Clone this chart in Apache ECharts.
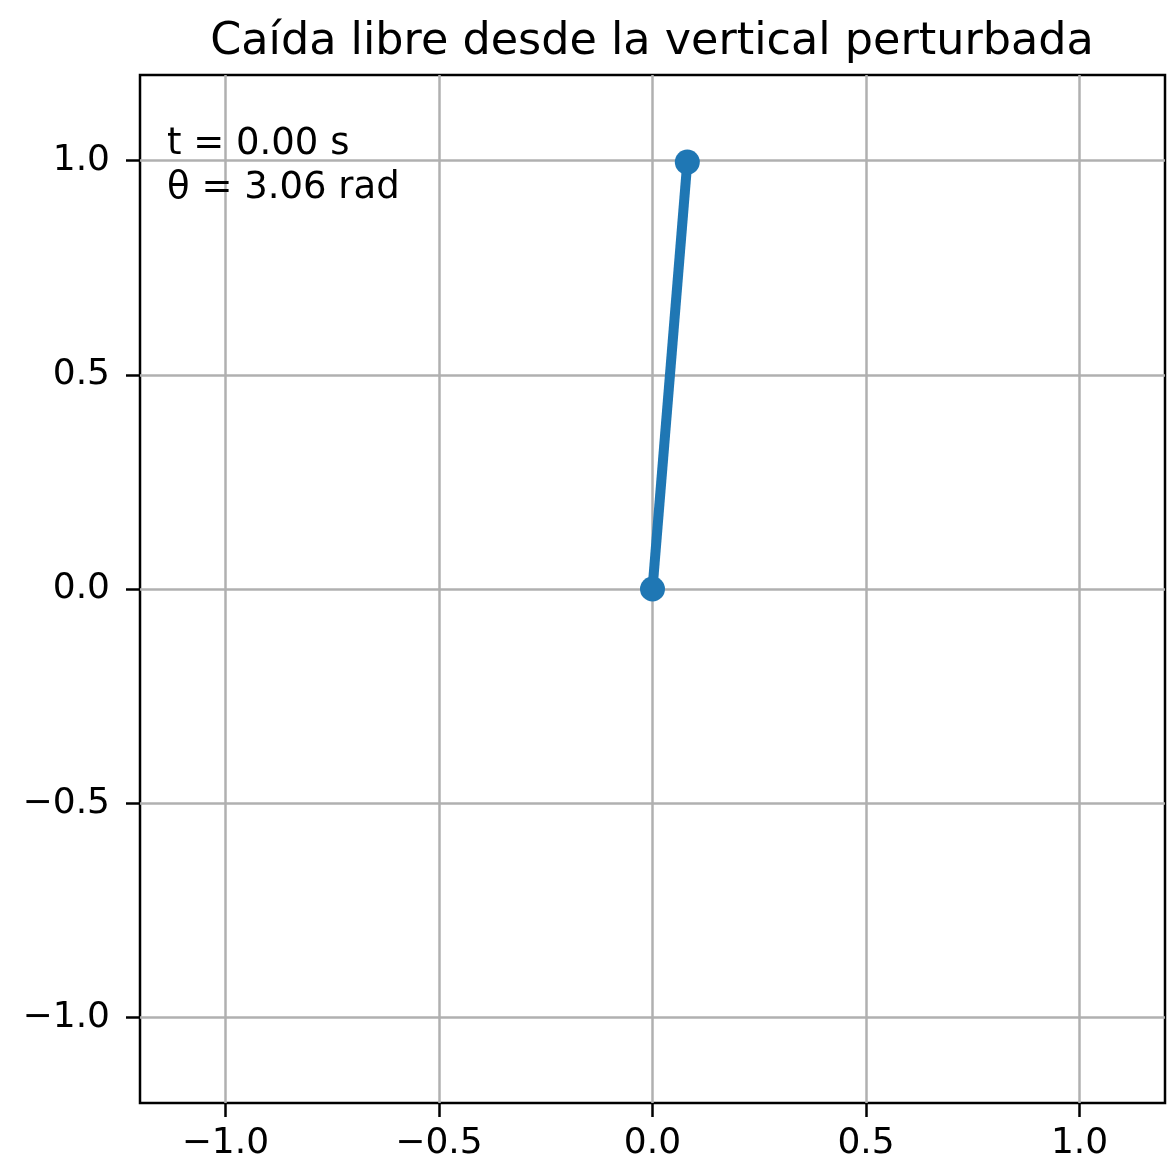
<!DOCTYPE html>
<html>
<head>
<meta charset="utf-8">
<title>Caída libre desde la vertical perturbada</title>
<script src="https://cdn.jsdelivr.net/npm/echarts@6/dist/echarts.min.js"></script>
<style>
  html, body { margin: 0; padding: 0; background: #ffffff; }
  #chart { width: 1167px; height: 1169px; }
</style>
</head>
<body>
<div id="chart"></div>
<script>
// Pendulum state shown in this frame
const timeSeconds = 0.00;
const thetaRad = 3.06;

// Rod endpoints: pivot at the origin, bob near the upper vertical
const rodX = [0, 0.0815];
const rodY = [0, 0.9967];

// Axis ticks (both axes share the same range)
const axisMin = -1.2;
const axisMax = 1.2;
const tickValues = [-1.0, -0.5, 0.0, 0.5, 1.0];

const FONT = 'DejaVu Sans';
const BLUE = '#1f77b4';

function tickLabel(v) {
  return v.toFixed(1).replace('-', '\u2212');
}

function makeAxis() {
  return {
    type: 'value',
    min: axisMin,
    max: axisMax,
    axisLine: { show: false, onZero: false },
    axisTick: {
      show: true,
      inside: false,
      length: 14,
      customValues: tickValues,
      lineStyle: { color: '#000000', width: 2.5 }
    },
    axisLabel: {
      show: true,
      customValues: tickValues,
      formatter: tickLabel,
      fontFamily: FONT,
      fontSize: 36,
      color: '#000000',
      margin: 23
    },
    splitLine: {
      show: true,
      lineStyle: { color: '#b0b0b0', width: 2.5 }
    }
  };
}

const chart = echarts.init(document.getElementById('chart'), null, { renderer: 'canvas' });

const xAxis = makeAxis();
const yAxis = makeAxis();
yAxis.axisLabel.margin = 30;

chart.setOption({
  backgroundColor: '#ffffff',
  animation: false,
  title: {
    text: 'Caída libre desde la vertical perturbada',
    left: 647,
    top: 15,
    textAlign: 'center',
    textStyle: {
      fontFamily: FONT,
      fontSize: 44.5,
      fontWeight: 'normal',
      color: '#000000'
    }
  },
  grid: {
    left: 140,
    right: 2,
    top: 75,
    bottom: 66,
    show: true,
    borderColor: '#000000',
    borderWidth: 2.5,
    backgroundColor: 'transparent'
  },
  xAxis: xAxis,
  yAxis: yAxis,
  graphic: [{
    type: 'text',
    left: 167,
    top: 122,
    z: 100,
    style: {
      text: 't = ' + timeSeconds.toFixed(2) + ' s\n\u03b8 = ' + thetaRad.toFixed(2) + ' rad',
      fontFamily: FONT,
      fontSize: 37,
      lineHeight: 44,
      fill: '#000000'
    }
  }],
  series: [{
    type: 'line',
    data: rodX.map((x, i) => [x, rodY[i]]),
    symbol: 'circle',
    symbolSize: 25,
    showSymbol: true,
    lineStyle: { color: BLUE, width: 10 },
    itemStyle: { color: BLUE },
    clip: false,
    z: 10
  }]
});
</script>
</body>
</html>
